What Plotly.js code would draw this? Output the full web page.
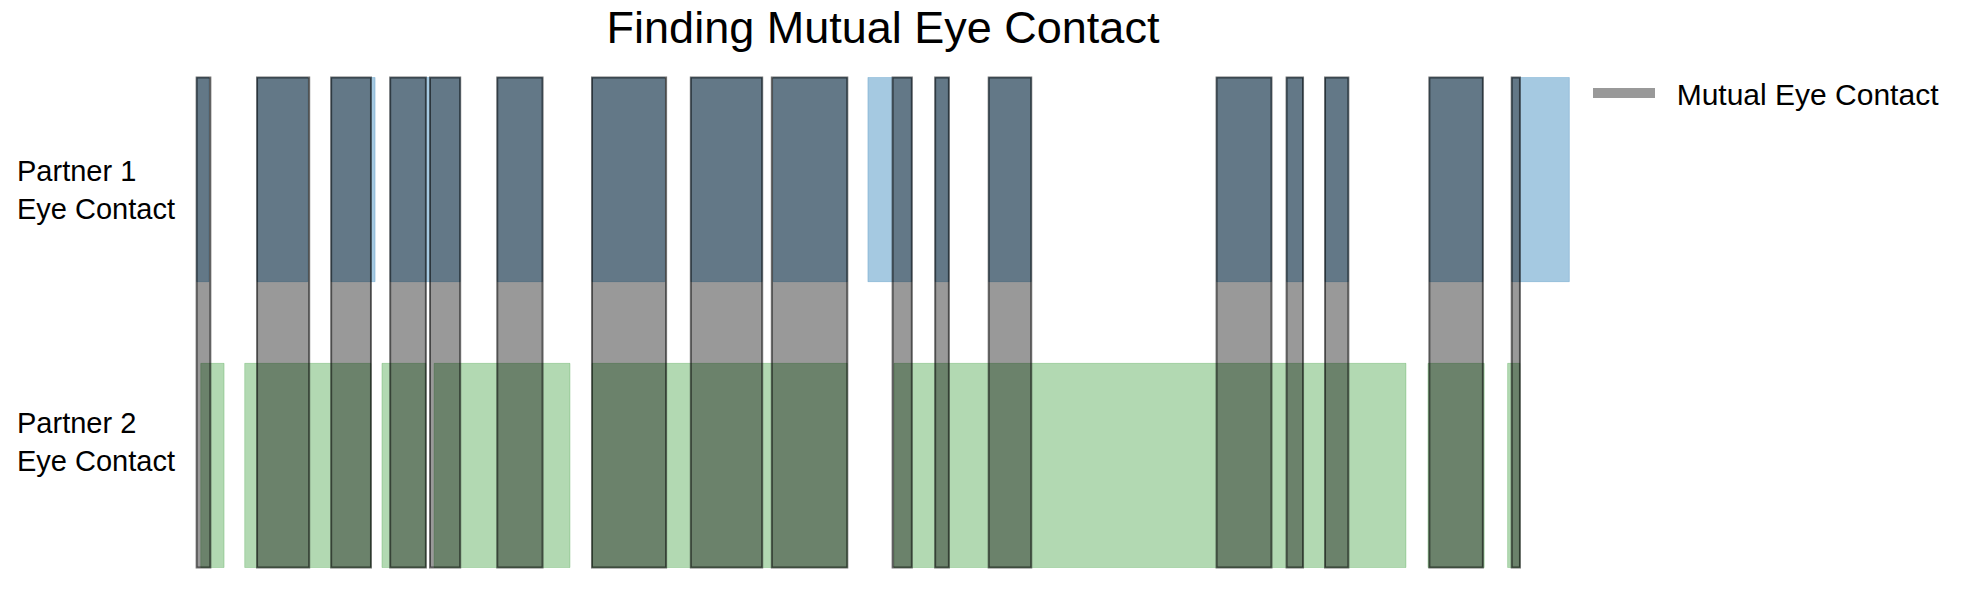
<!DOCTYPE html>
<html>
<head>
<meta charset="utf-8">
<script src="https://cdn.plot.ly/plotly-3.0.1.min.js"></script>
<style>
  html, body { margin: 0; padding: 0; background: #ffffff; }
  #chart { width: 1966px; height: 604px; }
</style>
</head>
<body>
<div id="chart"></div>
<script>
// Time (seconds) of each eye-contact interval
const partner1Start = [0.0, 4.4, 9.8, 14.1, 21.9, 28.8, 36.0, 42.0, 48.9, 53.8, 57.7, 74.3, 79.4, 82.2, 89.8, 95.8];
const partner1End   = [0.9, 8.1, 13.0, 19.2, 25.2, 34.1, 41.2, 47.4, 52.1, 54.8, 60.8, 78.3, 80.6, 83.9, 93.7, 100.0];

const partner2Start = [0.3, 3.5, 13.5, 17.3, 28.8, 50.8, 89.7, 95.5];
const partner2End   = [2.0, 12.7, 16.7, 27.2, 47.4, 88.1, 93.8, 96.4];

const mutualStart = [0.0, 4.4, 9.8, 14.1, 17.0, 21.9, 28.8, 36.0, 41.9, 50.7, 53.8, 57.7, 74.3, 79.4, 82.2, 89.8, 95.8];
const mutualEnd   = [1.0, 8.2, 12.7, 16.7, 19.2, 25.2, 34.2, 41.2, 47.4, 52.1, 54.8, 60.8, 78.3, 80.6, 83.9, 93.7, 96.4];

const rowLabels = ["Partner 1<br>Eye Contact", "Partner 2<br>Eye Contact"];
const legendLabel = "Mutual Eye Contact";
const chartTitle = "Finding Mutual Eye Contact";

const FONT = "Liberation Sans, Arial, Helvetica, sans-serif";

function dur(s, e) { return s.map((v, i) => e[i] - v); }
function fill(n, v) { return new Array(n).fill(v); }

const p1 = {
  type: "bar", orientation: "h",
  base: partner1Start, x: dur(partner1Start, partner1End),
  y: fill(partner1Start.length, 9.5), width: 5,
  marker: { color: "rgba(31,119,180,0.4)", line: { color: "rgba(31,119,180,0.25)", width: 1 } },
  showlegend: false, hoverinfo: "skip", name: "Partner 1"
};
const p2 = {
  type: "bar", orientation: "h",
  base: partner2Start, x: dur(partner2Start, partner2End),
  y: fill(partner2Start.length, 2.5), width: 5,
  marker: { color: "rgba(0,128,0,0.3)", line: { color: "rgba(0,128,0,0.2)", width: 1 } },
  showlegend: false, hoverinfo: "skip", name: "Partner 2"
};
const mutual = {
  type: "bar", orientation: "h",
  base: mutualStart, x: dur(mutualStart, mutualEnd),
  y: fill(mutualStart.length, 6), width: 12,
  marker: { color: "rgba(0,0,0,0.4)", line: { color: "rgba(0,0,0,0.55)", width: 2 } },
  showlegend: false, legendgroup: "mutual", hoverinfo: "skip", name: legendLabel
};
const mutualKey = {
  type: "scatter", mode: "lines", x: [null], y: [null],
  line: { color: "rgba(0,0,0,0.4)", width: 10 },
  name: "\u00a0\u00a0" + legendLabel, legendgroup: "mutual", showlegend: true, hoverinfo: "skip"
};

const layout = {
  width: 1966, height: 604,
  margin: { l: 128, r: 328, t: 53, b: 12, autoexpand: false },
  paper_bgcolor: "#ffffff", plot_bgcolor: "#ffffff",
  barmode: "overlay", bargap: 0,
  font: { family: FONT, color: "#000000" },
  title: {
    text: chartTitle, font: { family: FONT, size: 45, color: "#000000" },
    x: 0.5, xref: "paper", xanchor: "center",
    y: 1 - 27 / 604, yref: "container", yanchor: "middle"
  },
  xaxis: { range: [-5, 105], visible: false, fixedrange: true },
  yaxis: { range: [-0.6, 12.6], type: "linear", visible: false, fixedrange: true },
  showlegend: true,
  legend: {
    xref: "container", yref: "container",
    x: 1588 / 1966, xanchor: "left",
    y: 1 - 93 / 604, yanchor: "middle",
    itemwidth: 62, borderwidth: 0, bgcolor: "rgba(0,0,0,0)",
    font: { family: FONT, size: 30, color: "#000000" }
  },
  annotations: [
    { text: rowLabels[0], xref: "paper", x: (15 - 128) / 1510, xanchor: "left", align: "left",
      yref: "y", y: 9.25, yanchor: "middle", showarrow: false,
      font: { family: FONT, size: 29, color: "#000000" } },
    { text: rowLabels[1], xref: "paper", x: (15 - 128) / 1510, xanchor: "left", align: "left",
      yref: "y", y: 3.07, yanchor: "middle", showarrow: false,
      font: { family: FONT, size: 29, color: "#000000" } }
  ]
};

Plotly.newPlot("chart", [p2, p1, mutual, mutualKey], layout, { displayModeBar: false, staticPlot: true });
</script>
</body>
</html>
